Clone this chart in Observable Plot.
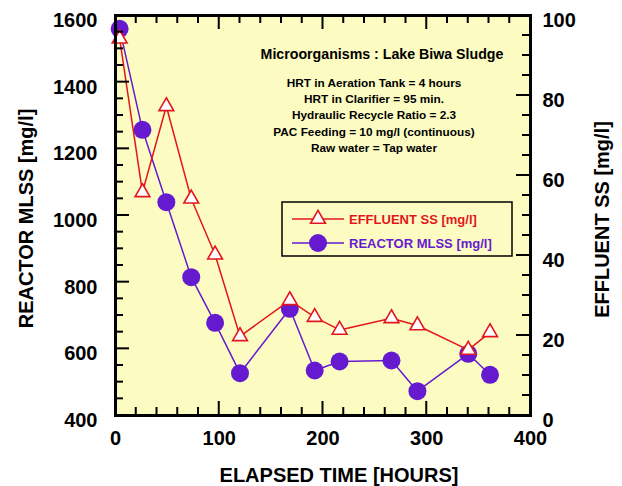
<!DOCTYPE html>
<html><head><meta charset="utf-8">
<script src="https://cdn.jsdelivr.net/npm/d3@7"></script>
<script src="https://cdn.jsdelivr.net/npm/@observablehq/plot@0.6"></script>
<style>body{margin:0;background:#fff}</style>
</head><body><div id="chart"></div>
<script>
// ---- data ----
const hours = [4, 26, 49, 73, 96, 120, 168, 192, 216, 266, 291, 340, 361];
const reactorMLSS = [1560, 1257, 1040, 815, 678, 527, 720, 535, 562, 565, 473, 585, 522];
const effluentSS = [94.2, 55.8, 77.3, 54.2, 40.2, 19.8, 28.8, 24.6, 21.4, 24.3, 22.5, 16.4, 20.8];
const xTickLabels = [0, 100, 200, 300, 400];
const mlssTickLabels = [400, 600, 800, 1000, 1200, 1400, 1600];
const ssTickLabels = [0, 20, 40, 60, 80, 100];
const seriesNames = ["EFFLUENT SS [mg/l]", "REACTOR MLSS [mg/l]"];
const axisTitles = {x: "ELAPSED TIME [HOURS]", left: "REACTOR MLSS [mg/l]", right: "EFFLUENT SS [mg/l]"};
const annotationTitle = "Microorganisms : Lake Biwa Sludge";
const annotationLines = [
  "HRT in Aeration Tank = 4 hours",
  "HRT in Clarifier = 95 min.",
  "Hydraulic Recycle Ratio = 2.3",
  "PAC Feeding = 10 mg/l (continuous)",
  "Raw water = Tap water"
];

// ---- layout / style ----
const RED = "#e3161d", PURPLE = "#651ad0", BG = "#fcfcc2";
const WIDTH = 622, HEIGHT = 486, ML = 115, MR = 92, MT = 15, MB = 71;
const ssToY = v => 400 + v * 12;      // right axis (0..100) onto left axis (400..1600)
const yToSS = y => String(Math.round((y - 400) / 12));

const mlssData = hours.map((h, i) => ({h, v: reactorMLSS[i]}));
const ssData = hours.map((h, i) => ({h, v: effluentSS[i]}));

const xMinor = d3.range(0, 401, 20).filter(d => d % 100 !== 0);
const yMinor = d3.range(400, 1601, 50).filter(d => d % 200 !== 0);
const ssMinor = d3.range(0, 101, 5).filter(d => d % 20 !== 0);

// inward ticks on all four sides, positioned through Plot's scales
function ticks(index, scales, values, dims) {
  const {x, y} = scales;
  const left = dims.marginLeft, right = dims.width - dims.marginRight;
  const top = dims.marginTop, bottom = dims.height - dims.marginBottom;
  const g = d3.create("svg:g").attr("stroke", "black").attr("stroke-width", 2);
  const add = (x1, y1, x2, y2) => g.append("line").attr("x1", x1).attr("y1", y1).attr("x2", x2).attr("y2", y2);
  for (const [arr, len] of [[xMinor, 8], [xTickLabels, 14]]) {
    for (const v of arr) { const px = x(v); add(px, bottom, px, bottom - len); add(px, top, px, top + len); }
  }
  for (const [arr, len] of [[yMinor, 8], [mlssTickLabels, 14]]) {
    for (const v of arr) { const py = y(v); add(left, py, left + len, py); }
  }
  for (const [arr, len] of [[ssMinor, 8], [ssTickLabels, 14]]) {
    for (const v of arr) { const py = y(ssToY(v)); add(right, py, right - len, py); }
  }
  return g.node();
}

function legend(index, scales, values, dims) {
  const g = d3.create("svg:g");
  const x0 = 282, y0 = 202, w = 230, h = 54;
  g.append("rect").attr("x", x0).attr("y", y0).attr("width", w).attr("height", h)
    .attr("fill", "none").attr("stroke", "black").attr("stroke-width", 1.5);
  const rows = [
    {name: seriesNames[0], color: RED, y: 219, sym: "tri"},
    {name: seriesNames[1], color: PURPLE, y: 243, sym: "dot"}
  ];
  for (const r of rows) {
    g.append("line").attr("x1", 292).attr("x2", 344).attr("y1", r.y).attr("y2", r.y)
      .attr("stroke", r.color).attr("stroke-width", 1.5);
    if (r.sym === "tri") {
      g.append("path").attr("d", d3.symbol(d3.symbolTriangle, 95)())
        .attr("transform", `translate(318,${r.y})`)
        .attr("fill", "white").attr("stroke", r.color).attr("stroke-width", 1.6);
    } else {
      g.append("circle").attr("cx", 318).attr("cy", r.y).attr("r", 9).attr("fill", r.color);
    }
    g.append("text").attr("x", 349).attr("y", r.y).attr("dy", "0.35em")
      .attr("text-anchor", "start")
      .attr("fill", r.color).attr("font-size", 13).attr("font-weight", "bold")
      .text(r.name);
  }
  return g.node();
}

const chart = Plot.plot({
  width: WIDTH, height: HEIGHT,
  marginLeft: ML, marginRight: MR, marginTop: MT, marginBottom: MB,
  style: {fontFamily: "'Liberation Sans', Arial, sans-serif", fontWeight: "bold", fontSize: "20px", background: "white", color: "black"},
  x: {domain: [0, 400]},
  y: {domain: [400, 1600]},
  marks: [
    Plot.frame({fill: BG, stroke: null}),
    // axes labels
    Plot.axisX({ticks: xTickLabels, tickFormat: d => String(d), tickSize: 0, tickPadding: 15, label: null, fontSize: 20, fontWeight: "bold"}),
    Plot.axisY({anchor: "left", ticks: mlssTickLabels, tickFormat: d => String(d), tickSize: 0, tickPadding: 18, dy: 5, label: null, fontSize: 20, fontWeight: "bold"}),
    Plot.axisY({anchor: "right", ticks: ssTickLabels.map(ssToY), tickFormat: yToSS, tickSize: 0, tickPadding: 12, dy: 5, label: null, fontSize: 20, fontWeight: "bold"}),
    // axis titles
    Plot.text([axisTitles.x], {frameAnchor: "bottom", text: d => d, dx: 16, dy: 60, fontSize: 20, fontWeight: "bold", lineAnchor: "middle"}),
    Plot.text([axisTitles.left], {frameAnchor: "left", text: d => d, dx: -89, dy: 3, rotate: -90, fontSize: 20, fontWeight: "bold", lineAnchor: "middle", textAnchor: "middle"}),
    Plot.text([axisTitles.right], {frameAnchor: "right", text: d => d, dx: 72, dy: 4, rotate: -90, fontSize: 20, fontWeight: "bold", lineAnchor: "middle", textAnchor: "middle"}),
    // annotations
    Plot.text([annotationTitle], {frameAnchor: "top", text: d => d, dx: 59, dy: 39, fontSize: 14.2, fontWeight: "bold", lineAnchor: "middle"}),
    Plot.text([annotationLines.join("\n")], {frameAnchor: "top", text: d => d, dx: 51, dy: 60, fontSize: 11.8, fontWeight: "bold", lineAnchor: "top", lineHeight: 1.375}),
    // series
    Plot.line(mlssData, {x: "h", y: "v", stroke: PURPLE, strokeWidth: 1.5}),
    Plot.dot(mlssData, {x: "h", y: "v", r: 9, fill: PURPLE, stroke: null}),
    Plot.line(ssData, {x: "h", y: d => ssToY(d.v), stroke: RED, strokeWidth: 1.5}),
    Plot.dot(ssData, {x: "h", y: d => ssToY(d.v), symbol: "triangle", r: 5.5, fill: "white", stroke: RED, strokeWidth: 1.6}),
    legend,
    ticks,
    Plot.frame({stroke: "black", strokeWidth: 3})
  ]
});
document.getElementById("chart").append(chart);
</script>
</body></html>
